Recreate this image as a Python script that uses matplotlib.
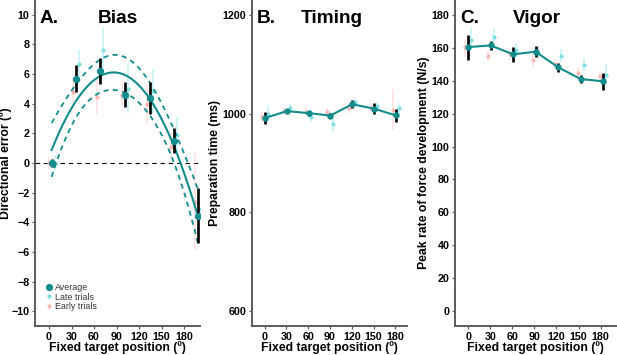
import numpy as np
import matplotlib
matplotlib.use("Agg")
import matplotlib.pyplot as plt

plt.rcParams["font.family"] = ["Liberation Sans", "DejaVu Sans"]

# colours
avg_col = "#138c8c"
late_col = "#7fdfe2"
early_col = "#fbb9b5"
spine_col = "#5c5c5c"

tick_labels = [0, 30, 60, 90, 120, 150, 180]
dodge = 4

# ---- A. Bias (directional error, deg)
bias_x = [3.5, 36, 68.5, 101.5, 134, 166, 198.5]
bias_avg = [0.0, 5.7, 6.2, 4.6, 4.4, 1.5, -3.55]
bias_avg_err = [0.3, 0.9, 0.9, 0.85, 1.1, 0.85, 1.85]
bias_late = [0.0, 6.65, 7.6, 5.0, 4.85, 1.9, -3.1]
bias_late_err = [0.5, 1.0, 1.5, 1.6, 1.5, 1.2, 1.5]
bias_early = [0.0, 4.8, 4.45, 4.6, 3.95, 1.1, -2.6]
bias_early_err = [0.4, 0.8, 1.2, 0.8, 1.3, 1.0, 3.3]
bias_ci_scale = 2.08

# ---- B. Timing (preparation time, ms)
time_x = [0.5, 30.5, 60.5, 90.5, 120.5, 150.5, 180.5]
time_avg = [991, 1005, 1001, 996, 1019, 1010, 996.5]
time_avg_err = [12, 4, 5, 5, 8.5, 11, 13.5]
time_late = [1000, 1011, 993, 978, 1023.5, 1015, 1011]
time_late_err = [17, 8, 10, 15, 8, 8, 10]
time_early = [993, 1005, 1003, 1003, 1011, 1012, 1008]
time_early_err = [10, 8, 8, 8, 10, 10, 42]

# ---- C. Vigor (peak rate of force development, N/s)
vig_x = [0, 30.5, 61, 91.5, 122.5, 153, 183.5]
vig_avg = [160.4, 161.4, 156.0, 157.6, 148.1, 141.0, 139.6]
vig_avg_err = [7.6, 3.0, 4.5, 3.4, 2.8, 2.5, 5.3]
vig_late = [164.8, 166.5, 158.8, 157.0, 155.2, 149.7, 143.2]
vig_late_err = [7, 5, 4, 4, 4, 4, 7]
vig_early = [160.2, 155.2, 156.0, 152.3, 150.1, 144.7, 142.6]
vig_early_err = [5, 3, 3, 4, 3, 3, 3]

fig = plt.figure(figsize=(6.17, 3.55), dpi=100)
W, H = 617.0, 355.0

def make_ax(left, right):
    return fig.add_axes([left / W, 29 / H, (right - left) / W, 326 / H])

axA = make_ax(35, 200)
axB = make_ax(251.7, 406.7)
axC = make_ax(455, 616)


def draw_points(ax, x, avg, avg_err, late, late_err, early, early_err, ms_avg, line):
    x = np.array(x, dtype=float)
    ax.errorbar(x - dodge, early, yerr=early_err, fmt="none", ecolor=early_col,
                elinewidth=1.1, alpha=0.45, zorder=1)
    ax.errorbar(x + dodge, late, yerr=late_err, fmt="none", ecolor=late_col,
                elinewidth=1.1, alpha=0.45, zorder=1)
    ax.plot(x - dodge, early, "o", color=early_col, ms=3.0, mec="none", zorder=2,
            label="Early trials")
    ax.plot(x + dodge, late, "o", color=late_col, ms=3.0, mec="none", zorder=2,
            label="Late trials")
    if line:
        ax.plot(x, avg, "-", color=avg_col, lw=1.5, zorder=3)
    ax.errorbar(x, avg, yerr=avg_err, fmt="none", ecolor="black", elinewidth=1.9,
                zorder=4)
    ax.plot(x, avg, "o", color=avg_col, ms=ms_avg, mec="none", zorder=5,
            label="Average")


def style(ax, xlim, ylim, yticks, ylabel, ylab_x, letter, title, title_x):
    ax.set_xlim(*xlim)
    ax.set_ylim(*ylim)
    ax.set_xticks(tick_labels)
    ax.set_yticks(yticks)
    for s in ["top", "right"]:
        ax.spines[s].set_visible(False)
    for s in ["left", "bottom"]:
        ax.spines[s].set_color(spine_col)
        ax.spines[s].set_linewidth(1.4)
    ax.tick_params(length=2.5, width=0.9, color=spine_col, pad=1.5,
                   labelsize=7.7, labelcolor="black")
    for lab in ax.get_xticklabels() + ax.get_yticklabels():
        lab.set_fontweight("bold")
    ax.set_xlabel("Fixed target position (º)", fontsize=8.8, fontweight="bold")
    ax.xaxis.set_label_coords(0.5, -0.046)
    ax.set_ylabel(ylabel, fontsize=8.8, fontweight="bold")
    ax.yaxis.set_label_coords(ylab_x, 0.5)
    ax.text(0.03, 0.93, letter, transform=ax.transAxes, fontsize=13.7,
            fontweight="bold", ha="left", va="baseline")
    ax.text(title_x, 0.93, title, transform=ax.transAxes, fontsize=13.7,
            fontweight="bold", ha="center", va="baseline")


# panel A
axA.axhline(0, color="black", lw=0.8, ls=(0, (4, 3.5)), zorder=0)
draw_points(axA, bias_x, bias_avg, bias_avg_err, bias_late, bias_late_err,
            bias_early, bias_early_err, 5.2, False)
coef = np.polyfit(bias_x, bias_avg, 2)
xx = np.linspace(bias_x[0], bias_x[-1], 200)
fit = np.polyval(coef, xx)
X = np.vander(np.array(bias_x, dtype=float), 3)
XX = np.vander(xx, 3)
lev = np.einsum("ij,jk,ik->i", XX, np.linalg.inv(X.T @ X), XX)
band = bias_ci_scale * np.sqrt(lev)
axA.plot(xx, fit, color=avg_col, lw=1.5, zorder=3)
axA.plot(xx, fit + band, color=avg_col, lw=1.3, ls=(0, (2.8, 2.4)), zorder=3)
axA.plot(xx, fit - band, color=avg_col, lw=1.3, ls=(0, (2.8, 2.4)), zorder=3)
style(axA, (-18.7, 201.3), (-11, 11), np.arange(-10, 11, 2),
      "Directional error (º)", -0.14, "A.", "Bias", 0.5)
h, l = axA.get_legend_handles_labels()
axA.legend([h[2], h[1], h[0]], [l[2], l[1], l[0]], loc="lower left",
           bbox_to_anchor=(0.03, 0.035), frameon=False, fontsize=6.4,
           handletextpad=0.1, labelspacing=0.05, borderaxespad=0,
           handlelength=1.2, labelcolor="#333333")

# panel B
draw_points(axB, time_x, time_avg, time_avg_err, time_late, time_late_err,
            time_early, time_early_err, 4.6, True)
style(axB, (-17.8, 195.6), (570, 1230), [600, 800, 1000, 1200],
      "Preparation time (ms)", -0.2, "B.", "Timing", 0.515)

# panel C
draw_points(axC, vig_x, vig_avg, vig_avg_err, vig_late, vig_late_err,
            vig_early, vig_early_err, 4.6, True)
style(axC, (-18.0, 201.0), (-9, 189), np.arange(0, 181, 20),
      "Peak rate of force development (N/s)", -0.155, "C.", "Vigor", 0.509)

fig.savefig("out.png", dpi=100)
